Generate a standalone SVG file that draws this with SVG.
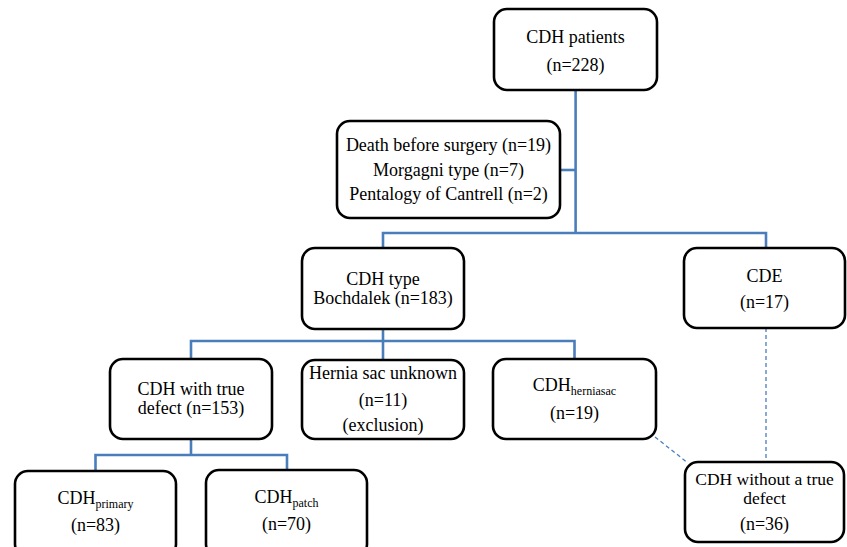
<svg xmlns="http://www.w3.org/2000/svg" width="847" height="547" viewBox="0 0 847 547">
<style>
.box{fill:#fff;stroke:#000;stroke-width:2.6}
text{font-family:'Liberation Serif','Times New Roman','DejaVu Serif',serif;font-size:18px;fill:#000;text-anchor:middle}
.sub{font-size:12px}
.c{fill:none;stroke:#4A7EBB;stroke-width:2.6}
.d{fill:none;stroke:#4A7EBB;stroke-width:1.3;stroke-dasharray:4 3}
</style>
<rect width="847" height="547" fill="#fff"/>
<g id="connectors">
<path class="c" d="M575.6 90 V233"/>
<path class="c" d="M560 170 H575.6"/>
<path class="c" d="M383 248 V233 H766 V248"/>
<path class="c" d="M383 329 V360"/>
<path class="c" d="M191 359 V341 H574.5 V359"/>
<path class="c" d="M191 439 V455"/>
<path class="c" d="M95.5 471 V455 H287 V470"/>
<path class="d" d="M766 328 V462"/>
<path class="d" d="M655 437 L688 463"/>
</g>
<g font-family="Liberation Serif, Times New Roman, serif" font-size="18" text-anchor="middle">
<g id="patients">
<rect class="box" x="494" y="9" width="163" height="81" rx="13"/>
<text x="575.5" y="43">CDH patients</text>
<text x="575.5" y="71">(n=228)</text>
</g>
<g id="excluded">
<rect class="box" x="337" y="121" width="223" height="97" rx="13"/>
<text x="448.5" y="151">Death before surgery (n=19)</text>
<text x="448.5" y="176">Morgagni type (n=7)</text>
<text x="448.5" y="200">Pentalogy of Cantrell (n=2)</text>
</g>
<g id="bochdalek">
<rect class="box" x="302" y="248" width="162" height="81" rx="13"/>
<text x="383" y="285">CDH type</text>
<text x="383" y="304">Bochdalek (n=183)</text>
</g>
<g id="cde">
<rect class="box" x="684" y="248" width="161" height="80" rx="13"/>
<text x="764.5" y="282">CDE</text>
<text x="764.5" y="308">(n=17)</text>
</g>
<g id="truedefect">
<rect class="box" x="110" y="359" width="162" height="80" rx="13"/>
<text x="191" y="395">CDH with true</text>
<text x="191" y="414">defect (n=153)</text>
</g>
<g id="herniaunknown">
<rect class="box" x="302" y="360" width="162" height="79" rx="13"/>
<text x="383" y="379">Hernia sac unknown</text>
<text x="383" y="406">(n=11)</text>
<text x="383" y="431">(exclusion)</text>
</g>
<g id="herniasac">
<rect class="box" x="493" y="359" width="163" height="80" rx="13"/>
<text x="574.5" y="391">CDH<tspan class="sub" dy="4">herniasac</tspan></text>
<text x="574.5" y="419">(n=19)</text>
</g>
<g id="primary">
<rect class="box" x="15" y="471" width="161" height="86" rx="13"/>
<text x="95.5" y="504">CDH<tspan class="sub" dy="4">primary</tspan></text>
<text x="95.5" y="531">(n=83)</text>
</g>
<g id="patch">
<rect class="box" x="206" y="470" width="161" height="87" rx="13"/>
<text x="286.5" y="503">CDH<tspan class="sub" dy="4">patch</tspan></text>
<text x="286.5" y="530">(n=70)</text>
</g>
<g id="withouttrue">
<rect class="box" x="685" y="462" width="159" height="80" rx="13"/>
<text x="764.5" y="485" style="font-size:17.5px">CDH without a true</text>
<text x="764.5" y="504" style="font-size:17.5px">defect</text>
<text x="764.5" y="530">(n=36)</text>
</g>
</g>
</svg>
